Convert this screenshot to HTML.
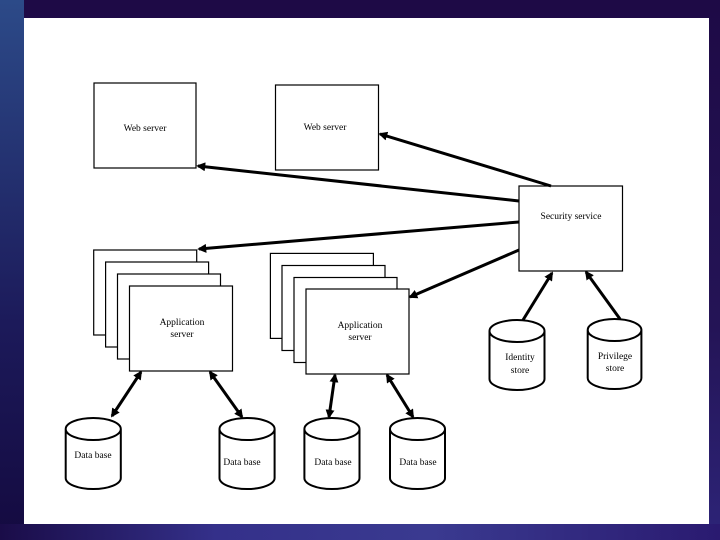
<!DOCTYPE html>
<html><head><meta charset="utf-8"><style>
html,body{margin:0;padding:0;width:720px;height:540px;overflow:hidden;}
body{background:linear-gradient(180deg,#1e0a46 0%,#241456 60%,#2d2478 100%);position:relative;}
.strip{position:absolute;left:0;top:0;width:24px;height:540px;background:linear-gradient(180deg,#2c4a88 0%,#1c1a5a 60%,#140a40 100%);}
.bot{position:absolute;left:0;top:524px;width:720px;height:16px;background:linear-gradient(90deg,#1a0c48 0%,#34308a 30%,#3a3a90 60%,#2a1a70 100%);}
.panel{position:absolute;left:24px;top:18px;width:685px;height:506px;background:#fff;}
svg{position:absolute;left:0;top:0;}
text{font-family:"Liberation Serif",serif;font-size:9.5px;fill:#000;}
</style></head><body>
<div class="strip"></div><div class="bot"></div><div class="panel"></div>
<svg width="720" height="540" viewBox="0 0 720 540">
<defs>
<marker id="a" markerWidth="3" markerHeight="3" refX="2.4" refY="1.5" orient="auto" markerUnits="strokeWidth"><path d="M0,0 L3,1.5 L0,3 z" fill="#000"/></marker>
<marker id="b" markerWidth="3" markerHeight="3" refX="0.6" refY="1.5" orient="auto" markerUnits="strokeWidth"><path d="M3,0 L0,1.5 L3,3 z" fill="#000"/></marker>
</defs>
<g fill="#fff" stroke="#000" stroke-width="1.2">
<rect x="94" y="83" width="102" height="85"/>
<rect x="275.5" y="85" width="103" height="85"/>
<rect x="519" y="186" width="103.5" height="85"/>
<rect x="93.7" y="250" width="103" height="85"/>
<rect x="105.6" y="262" width="103" height="85"/>
<rect x="117.5" y="274" width="103" height="85"/>
<rect x="129.5" y="286" width="103" height="85"/>
<rect x="270.4" y="253.4" width="103" height="85"/>
<rect x="282" y="265.5" width="103" height="85"/>
<rect x="294" y="277.5" width="103" height="85"/>
<rect x="306" y="289" width="103" height="85"/>
</g>
<g fill="#fff" stroke="#000" stroke-width="2">
<path d="M489.5,331 L489.5,379 A27.5,11 0 0 0 544.5,379 L544.5,331 A27.5,11 0 0 0 489.5,331 A27.5,11 0 0 0 544.5,331"/>
<path d="M587.7,330 L587.7,378 A26.85,11 0 0 0 641.4,378 L641.4,330 A26.85,11 0 0 0 587.7,330 A26.85,11 0 0 0 641.4,330"/>
<path d="M65.7,429 L65.7,478 A27.5,11 0 0 0 120.8,478 L120.8,429 A27.5,11 0 0 0 65.7,429 A27.5,11 0 0 0 120.8,429"/>
<path d="M219.5,429 L219.5,478 A27.5,11 0 0 0 274.6,478 L274.6,429 A27.5,11 0 0 0 219.5,429 A27.5,11 0 0 0 274.6,429"/>
<path d="M304.4,429 L304.4,478 A27.5,11 0 0 0 359.5,478 L359.5,429 A27.5,11 0 0 0 304.4,429 A27.5,11 0 0 0 359.5,429"/>
<path d="M390,429 L390,478 A27.5,11 0 0 0 445,478 L445,429 A27.5,11 0 0 0 390,429 A27.5,11 0 0 0 445,429"/>
</g>
<g stroke="#000" stroke-width="3" fill="none">
<line x1="551" y1="186" x2="380" y2="134" marker-end="url(#a)"/>
<line x1="519" y1="201" x2="198" y2="166" marker-end="url(#a)"/>
<line x1="519" y1="222" x2="199" y2="249" marker-end="url(#a)"/>
<line x1="519" y1="250" x2="410" y2="297" marker-end="url(#a)"/>
<line x1="523" y1="320" x2="552" y2="273" marker-end="url(#a)"/>
<line x1="620" y1="319" x2="586" y2="272" marker-end="url(#a)"/>
<line x1="141" y1="372" x2="112" y2="416" marker-start="url(#b)" marker-end="url(#a)"/>
<line x1="210" y1="372" x2="242" y2="417" marker-start="url(#b)" marker-end="url(#a)"/>
<line x1="335" y1="375" x2="329" y2="417" marker-start="url(#b)" marker-end="url(#a)"/>
<line x1="387" y1="375" x2="413" y2="417" marker-start="url(#b)" marker-end="url(#a)"/>
</g>
<g text-anchor="middle">
<text x="145" y="131">Web server</text>
<text x="325" y="130">Web server</text>
<text x="571" y="219">Security service</text>
<text x="182" y="325">Application</text>
<text x="182" y="337">server</text>
<text x="360" y="328">Application</text>
<text x="360" y="340">server</text>
<text x="520" y="360">Identity</text>
<text x="520" y="373">store</text>
<text x="615" y="359">Privilege</text>
<text x="615" y="371">store</text>
<text x="93" y="458">Data base</text>
<text x="242" y="465">Data base</text>
<text x="333" y="465">Data base</text>
<text x="418" y="465">Data base</text>
</g>
</svg>
</body></html>
